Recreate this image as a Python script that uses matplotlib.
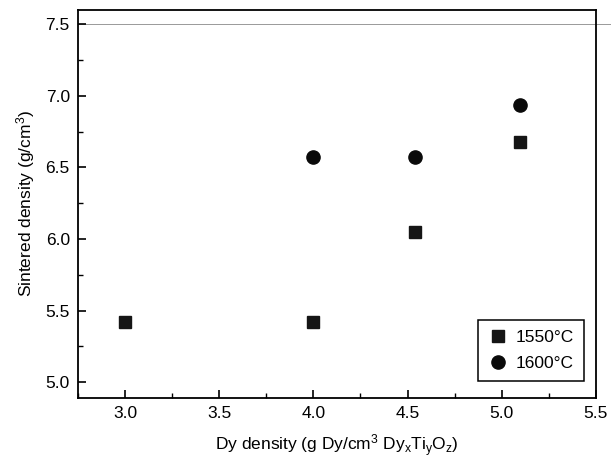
import numpy as np
import matplotlib
matplotlib.use("Agg")
from matplotlib import pyplot as plt
from matplotlib.ticker import MultipleLocator

plt.rcParams['font.family'] = ['Liberation Sans', 'DejaVu Sans']
plt.rcParams['mathtext.fontset'] = 'custom'
plt.rcParams['mathtext.rm'] = 'Liberation Sans'
plt.rcParams['mathtext.it'] = 'Liberation Sans'

# sintered density vs Dy density, two sintering temperatures
dy_1550 = [3.0, 4.0, 4.54, 5.1]
rho_1550 = [5.42, 5.42, 6.05, 6.68]
dy_1600 = [4.0, 4.54, 5.1]
rho_1600 = [6.57, 6.57, 6.94]
labels = ['1550°C', '1600°C']
x_ticks = [3.0, 3.5, 4.0, 4.5, 5.0, 5.5]
y_ticks = [5.0, 5.5, 6.0, 6.5, 7.0, 7.5]

fig = plt.figure(figsize=(6.11, 4.62), dpi=100)
ax = fig.add_axes([0.128, 0.139, 0.847, 0.839])

ax.plot(dy_1550, rho_1550, 's', ms=8.5, color='#151515', mec='#151515',
        label=labels[0])
ax.plot(dy_1600, rho_1600, 'o', ms=9.5, color='#0a0a0a', mec='#0a0a0a',
        label=labels[1])

# faint line at 7.5
ax.axhline(7.5, xmax=1.03, color='0.6', lw=0.7, clip_on=False, zorder=0)

ax.set_xlim(2.75, 5.5)
ax.set_ylim(4.89, 7.6)
ax.set_xticks(x_ticks)
ax.set_yticks(y_ticks)
ax.xaxis.set_minor_locator(MultipleLocator(0.25))
ax.yaxis.set_minor_locator(MultipleLocator(0.25))
ax.tick_params(which='major', direction='in', length=6, width=1.2,
               labelsize=12.5, pad=6)
ax.tick_params(which='minor', direction='in', length=3.5, width=1.0)
for s in ax.spines.values():
    s.set_linewidth(1.3)

ax.set_xlabel(r'Dy density (g Dy/cm$\mathregular{^3}$ '
              r'Dy$\mathregular{_x}$Ti$\mathregular{_y}$O$\mathregular{_z}$)',
              fontsize=12.5, labelpad=8)
ax.set_ylabel(r'Sintered density (g/cm$\mathregular{^3}$)', fontsize=12.5,
              labelpad=6)

leg = ax.legend(loc='lower right', fontsize=12.5, frameon=True, fancybox=False,
                edgecolor='black', framealpha=1, borderpad=0.6,
                handletextpad=0.4, handlelength=1.2, labelspacing=0.6,
                bbox_to_anchor=(0.995, 0.02))
leg.get_frame().set_linewidth(1.1)

fig.savefig('out.png', dpi=100)
